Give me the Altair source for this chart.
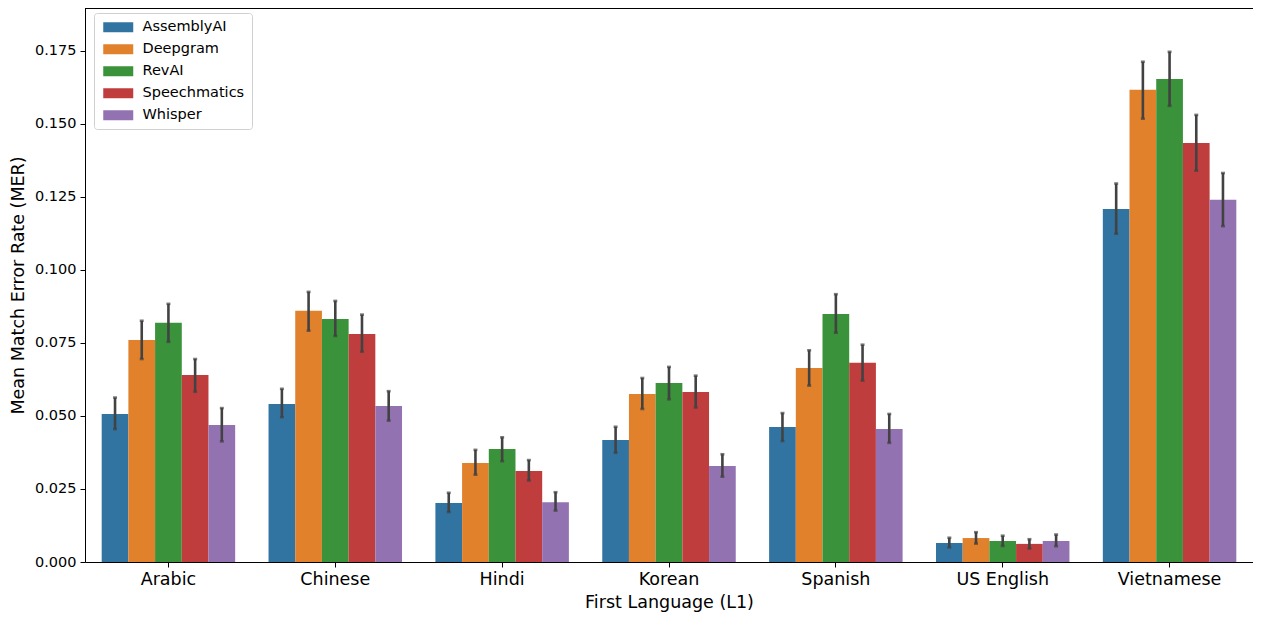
import altair as alt
import pandas as pd

languages = ["Arabic", "Chinese", "Hindi", "Korean", "Spanish", "US English", "Vietnamese"]
services = ["AssemblyAI", "Deepgram", "RevAI", "Speechmatics", "Whisper"]
colors = ["#3274a1", "#e1812c", "#3a923a", "#c03d3e", "#9372b2"]

mean_assemblyai = [0.0507, 0.0541, 0.0202, 0.0418, 0.0462, 0.0065, 0.1209]
mean_deepgram = [0.0760, 0.0860, 0.0339, 0.0575, 0.0664, 0.0082, 0.1617]
mean_revai = [0.0819, 0.0832, 0.0387, 0.0613, 0.0849, 0.0072, 0.1654]
mean_speechmatics = [0.0640, 0.0781, 0.0312, 0.0582, 0.0682, 0.0062, 0.1435]
mean_whisper = [0.0469, 0.0534, 0.0205, 0.0329, 0.0455, 0.0072, 0.1240]

low_assemblyai = [0.0455, 0.0496, 0.0171, 0.0374, 0.0414, 0.0050, 0.1124]
low_deepgram = [0.0695, 0.0792, 0.0299, 0.0524, 0.0604, 0.0063, 0.1518]
low_revai = [0.0754, 0.0774, 0.0345, 0.0557, 0.0785, 0.0055, 0.1562]
low_speechmatics = [0.0583, 0.0720, 0.0279, 0.0529, 0.0621, 0.0046, 0.1340]
low_whisper = [0.0413, 0.0484, 0.0176, 0.0292, 0.0408, 0.0054, 0.1150]

high_assemblyai = [0.0563, 0.0593, 0.0237, 0.0463, 0.0510, 0.0083, 0.1296]
high_deepgram = [0.0826, 0.0925, 0.0384, 0.0630, 0.0725, 0.0102, 0.1713]
high_revai = [0.0884, 0.0894, 0.0427, 0.0668, 0.0917, 0.0090, 0.1747]
high_speechmatics = [0.0695, 0.0847, 0.0349, 0.0638, 0.0744, 0.0078, 0.1531]
high_whisper = [0.0527, 0.0585, 0.0239, 0.0369, 0.0507, 0.0094, 0.1332]

y_ticks = [0.0, 0.025, 0.05, 0.075, 0.1, 0.125, 0.15, 0.175]

means = [mean_assemblyai, mean_deepgram, mean_revai, mean_speechmatics, mean_whisper]
lows = [low_assemblyai, low_deepgram, low_revai, low_speechmatics, low_whisper]
highs = [high_assemblyai, high_deepgram, high_revai, high_speechmatics, high_whisper]

rows = []
for si, s in enumerate(services):
    for li, lang in enumerate(languages):
        rows.append({"Language": lang, "Service": s, "MER": means[si][li],
                     "lo": lows[si][li], "hi": highs[si][li]})
df = pd.DataFrame(rows)

W, H = 1168, 554
FONT = "DejaVu Sans"

x_enc = alt.X("Language:N", sort=languages,
              scale=alt.Scale(paddingInner=0.2, paddingOuter=0.1),
              axis=alt.Axis(title="First Language (L1)", labelAngle=0, labelFontSize=17.5,
                            titleFontSize=17.5, labelPadding=3, titlePadding=6,
                            tickSize=5, tickColor="black", domainColor="black",
                            labelColor="black", titleColor="black", titleFontWeight="normal",
                            labelFont=FONT, titleFont=FONT))
xo_enc = alt.XOffset("Service:N", sort=services, scale=alt.Scale(paddingInner=0, paddingOuter=0))

bars = alt.Chart(df).mark_bar().encode(
    x=x_enc,
    xOffset=xo_enc,
    y=alt.Y("MER:Q", scale=alt.Scale(domain=[0, 0.1897], nice=False, zero=True),
            axis=alt.Axis(title="Mean Match Error Rate (MER)", values=y_ticks, format=".3f",
                          labelFontSize=14.5, titleFontSize=17.5, tickSize=5, tickColor="black",
                          domainColor="black", labelColor="black", titleColor="black",
                          titleFontWeight="normal", grid=False, labelPadding=4, titlePadding=7,
                          labelFont=FONT, titleFont=FONT)),
    color=alt.Color("Service:N", sort=services,
                    scale=alt.Scale(domain=services, range=colors),
                    legend=alt.Legend(title=None, orient="none", legendX=9, legendY=5,
                                      fillColor="white", strokeColor="#d0d0d0", cornerRadius=3,
                                      padding=7, labelFontSize=14.5, labelFont=FONT,
                                      labelColor="black",
                                      symbolType="M-3,-1H3V1H-3Z", symbolSize=100,
                                      symbolOffset=10,
                                      symbolStrokeWidth=0, symbolOpacity=1,
                                      rowPadding=7, labelOffset=17)),
)

err = alt.Chart(df).mark_rule(color="#424242", strokeWidth=2.6).encode(
    x=alt.X("Language:N", sort=languages),
    xOffset=alt.XOffset("Service:N", sort=services),
    y="lo:Q",
    y2="hi:Q",
)

cap_lo = alt.Chart(df).mark_tick(color="#424242", thickness=2.6, size=4, orient="horizontal").encode(
    x=alt.X("Language:N", sort=languages),
    xOffset=alt.XOffset("Service:N", sort=services),
    y="lo:Q",
)
cap_hi = alt.Chart(df).mark_tick(color="#424242", thickness=2.6, size=4, orient="horizontal").encode(
    x=alt.X("Language:N", sort=languages),
    xOffset=alt.XOffset("Service:N", sort=services),
    y="hi:Q",
)

top_spine = alt.Chart(df).mark_rule(color="black", strokeWidth=1).encode(
    x=alt.value(0), x2=alt.value(W), y=alt.value(0)
)

chart = alt.layer(bars, err, cap_lo, cap_hi, top_spine).properties(
    width=W, height=H,
    autosize=alt.AutoSizeParams(type="none"),
    padding={"left": 77, "top": 0, "right": 0, "bottom": 55},
).configure_view(stroke=None).configure(font=FONT)

chart.save("out.html", embed_options={"renderer": "svg", "actions": False})
